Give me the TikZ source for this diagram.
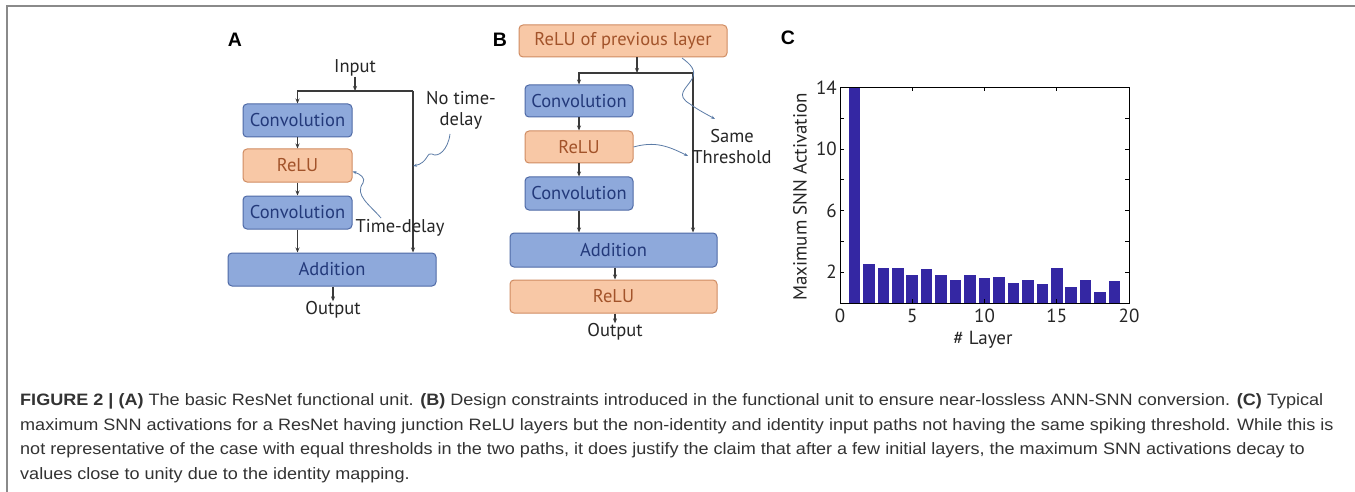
\documentclass[tikz,border=0pt]{standalone}
\usepackage{fontspec}
\usepackage{graphicx}
\setmainfont{PT Sans}
\newfontfamily\capfont{Liberation Sans}
\usetikzlibrary{arrows.meta}
\definecolor{bfill}{HTML}{8EA9DB}
\definecolor{bdraw}{HTML}{4F6AA6}
\definecolor{btext}{HTML}{23397A}
\definecolor{ofill}{HTML}{F8C8A6}
\definecolor{odraw}{HTML}{D08C62}
\definecolor{otext}{HTML}{A2532A}
\definecolor{lcol}{HTML}{3A3A3A}
\definecolor{scol}{HTML}{5B7BA6}
\definecolor{barc}{HTML}{3427A3}
\definecolor{capc}{HTML}{333333}
\definecolor{framec}{HTML}{8A8A8A}
\newlength\capw
\def\capA{\textbf{FIGURE 2 | (A)} The basic ResNet functional unit. \textbf{(B)} Design constraints introduced in the functional unit to ensure near-lossless ANN-SNN conversion. \textbf{(C)} Typical}
\def\capB{maximum SNN activations for a ResNet having junction ReLU layers but the non-identity and identity input paths not having the same spiking threshold. While this is}
\def\capC{not representative of the case with equal thresholds in the two paths, it does justify the claim that after a few initial layers, the maximum SNN activations decay to}
\def\capD{values close to unity due to the identity mapping.}
\def\cf{\capfont\fontsize{16.5}{20}\selectfont}
\begin{document}
\settowidth\capw{\cf\capA}%
\pgfmathsetmacro\capsx{1303/\capw}%
\begin{tikzpicture}[x=1pt,y=-1pt,
  blk/.style={draw=bdraw, fill=bfill, text=btext, rounded corners=4pt, line width=1pt, minimum height=33pt, inner sep=0pt, font=\fontsize{18.5}{18.5}\selectfont},
  org/.style={blk, draw=odraw, fill=ofill, text=otext},
  arr/.style={draw=lcol, line width=1.2pt, -{Stealth[length=5pt,width=4pt]}},
  sq/.style={draw=scol, line width=0.8pt, -{Stealth[length=4pt,width=3pt]}},
  lbl/.style={font=\fontsize{18.5}{21}\selectfont, text=black!85, inner sep=0pt},
  panel/.style={font=\capfont\fontsize{19.5}{19.5}\selectfont\bfseries, inner sep=0pt},
  tk/.style={draw=black, line width=0.8pt},
  num/.style={font=\fontsize{19}{19}\selectfont, text=black!85, inner sep=0pt},
  capline/.style={anchor=base west, inner sep=0pt, text=capc}
]
\useasboundingbox (0,0) rectangle (1355,492);
\fill[white] (0,0) rectangle (1355,492);
\draw[framec, line width=1.2pt] (7,492) -- (7,6) -- (1355,6);

% ---------------- Panel A
\node[panel] (lA) at (235,40) {A};
\node[lbl] (inA) at (355,68) {Input};
\coordinate (jA) at (355,91);
\coordinate (rA) at (413,91);
\node[blk, minimum width=109pt] (c1A) at (297.5,120.5) {Convolution};
\node[org, minimum width=109pt] (r1A) at (297.5,165.5) {ReLU};
\node[blk, minimum width=109pt] (c2A) at (297.5,212.5) {Convolution};
\node[blk, minimum width=208pt] (adA) at (332,269.5) {Addition};
\node[lbl] (outA) at (333,310) {Output};
\draw[arr] (inA.south) -- (jA);
\draw[arr] (rA) -- (c1A.north |- jA) -- (c1A.north);
\draw[arr] (rA) -- (rA |- adA.north);
\draw[arr] (c1A) -- (r1A);
\draw[arr] (r1A) -- (c2A);
\draw[arr] (c2A.south) -- (c2A.south |- adA.north);
\draw[arr] (adA.south -| outA) -- (outA.north);
\node[lbl, align=center] (ntA) at (461,110) {No time-\\delay};
\coordinate (ntAs) at (450,134);
\draw[sq] (ntAs) .. controls (448,150) and (438,158) .. (432,154) .. controls (427,151) and (428,163) .. (rA |- 0,166);
\node[lbl] (tdA) at (400,228) {Time-delay};
\coordinate (tdAs) at (381,218);
\draw[sq] (tdAs) .. controls (370,205) and (354,195) .. (363,183) .. controls (366,178) and (360,174) .. ([yshift=-6pt]r1A.east);

% ---------------- Panel B
\node[panel] (lB) at (500,40) {B};
\node[org, minimum width=208pt, minimum height=32pt] (pB) at (623,41) {ReLU of previous layer};
\coordinate (jB) at (637,73);
\coordinate (rB) at (693,73);
\node[blk, minimum width=108pt, minimum height=32pt] (c1B) at (579,101) {Convolution};
\node[org, minimum width=108pt, minimum height=32pt] (r1B) at (579,147) {ReLU};
\node[blk, minimum width=108pt] (c2B) at (579,193.5) {Convolution};
\node[blk, minimum width=207pt, minimum height=34pt] (adB) at (613.5,250) {Addition};
\node[org, minimum width=207pt] (r2B) at (613.5,296.5) {ReLU};
\node[lbl] (outB) at (615,332) {Output};
\draw[arr] (pB.south -| jB) -- (jB);
\draw[arr] (rB) -- (c1B.north |- jB) -- (c1B.north);
\draw[arr] (rB) -- (rB |- adB.north);
\draw[arr] (c1B) -- (r1B);
\draw[arr] (r1B) -- (c2B);
\draw[arr] (c2B.south) -- (c2B.south |- adB.north);
\draw[arr] (adB.south -| outB) -- (r2B.north -| outB);
\draw[arr] (r2B.south -| outB) -- (outB.north);
\node[lbl, align=center] (stB) at (732,147) {Same\\Threshold};
\coordinate (sqB1s) at (682,58);
\coordinate (sqB1e) at (715,119);
\draw[sq] (sqB1s) .. controls (690,64) and (697,70) .. (692,79) .. controls (686,89) and (675,95) .. (690,104) .. controls (698,110) and (708,115) .. (sqB1e);
\coordinate (sqB2e) at (688,156);
\draw[sq] (r1B.east) .. controls (655,141) and (668,146) .. (sqB2e);

% ---------------- Panel C
\node[panel] (lC) at (788,38) {C};
\foreach \i/\v in {1/14,2/2.55,3/2.28,4/2.28,5/1.84,6/2.2,7/1.8,8/1.5,9/1.8,10/1.62,11/1.71,12/1.28,13/1.47,14/1.21,15/2.3,16/1.06,17/1.49,18/0.71,19/1.43}
  \fill[barc] ({840+(\i-0.4)*14.45},303) rectangle ({840+(\i+0.4)*14.45},{303-\v*15.4});
\draw[black, line width=1pt] (840,87.4) rectangle (1129,303);
\foreach \v in {2,4,...,12} {
  \draw[tk] (840,{303-\v*15.4}) -- ++(4,0);
  \draw[tk] (1129,{303-\v*15.4}) -- ++(-4,0);
}
\foreach \u in {5,10,15} {
  \draw[tk] ({840+\u*14.45},303) -- ++(0,-4);
  \draw[tk] ({840+\u*14.45},87.4) -- ++(0,4);
}
\foreach \v in {2,6,10,14}
  \node[num, anchor=east] (yl\v) at (837,{303-\v*15.4}) {\v};
\foreach \u in {0,5,10,15,20}
  \node[num] (xl\u) at ({840+\u*14.45},316) {\u};
\node[num, rotate=90] (ylab) at (800,197) {Maximum SNN Activation};
\node[num] (xlab) at (983,340) {\# Layer};

% ---------------- Caption
\node[capline] (cap1) at (20,405.5) {\scalebox{\capsx}[1]{\cf\capA}};
\node[capline] (cap2) at (20,430) {\scalebox{\capsx}[1]{\cf\capB}};
\node[capline] (cap3) at (20,454.5) {\scalebox{\capsx}[1]{\cf\capC}};
\node[capline] (cap4) at (20,479) {\scalebox{\capsx}[1]{\cf\capD}};
\end{tikzpicture}
\end{document}
